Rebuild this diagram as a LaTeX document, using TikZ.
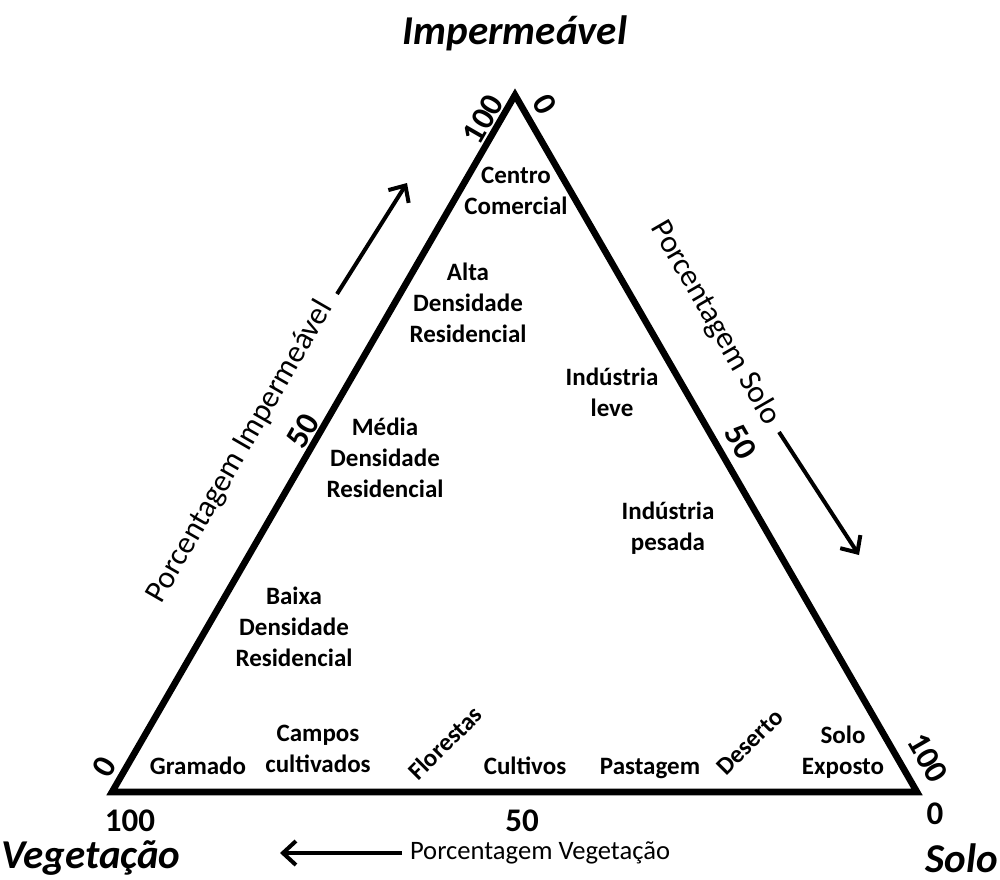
\documentclass[tikz,border=0pt]{standalone}
\usepackage{fontspec}
\setmainfont{Carlito}
\usetikzlibrary{arrows.meta}
\tikzset{
  region/.style={font=\bfseries\fontsize{12.5}{15.5}\selectfont, align=center, inner sep=0pt},
  tick/.style={font=\bfseries\fontsize{16.5}{19}\selectfont, inner sep=0pt},
  corner/.style={font=\bfseries\itshape\fontsize{20.5}{25}\selectfont, inner sep=0pt},
  axislabel/.style={font=\fontsize{13.3}{16}\selectfont, inner sep=0pt},
  sidelabel/.style={font=\fontsize{15.7}{18}\selectfont, inner sep=0pt},
  pointer/.style={line width=2pt, -{Straight Barb[length=6.5pt,width=12pt,line width=2pt]}}
}
\begin{document}
\begin{tikzpicture}[x=0.5pt,y=-0.5pt]
      \useasboundingbox (0,0) rectangle (1000,879);
      \coordinate (imp) at (515,95);
      \coordinate (veg) at (112,792);
      \coordinate (solo) at (917,792);
      \draw[line width=3.3pt, line join=miter] (imp) -- (veg) -- (solo) -- cycle;
      \draw
        (515,33) node[corner] (Imp){Impermeável}
        (91,858) node[corner] (Veg){Vegetação}
        (962,858) node[corner] (Sol){Solo}
        (130,821) node[tick] (v100){100}
        (522,821) node[tick] (v50){50}
        (935,814) node[tick] (v0){0}
        (483,119) node[tick, rotate=60] (i100){100}
        (303,431) node[tick, rotate=60] (i50){50}
        (104,767) node[tick, rotate=60] (i0){0}
        (545,104) node[tick, rotate=-60] (s0){0}
        (741,442) node[tick, rotate=-60] (s50){50}
        (928,758) node[tick, rotate=-60] (s100){100};
      \draw
        (516,191) node[region] (centro){Centro\\Comercial}
        (468,303) node[region] (alta){Alta\\Densidade\\Residencial}
        (612,392) node[region] (leve){Indústria\\leve}
        (385,458) node[region] (media){Média\\Densidade\\Residencial}
        (668,528) node[region] (pesada){Indústria\\pesada}
        (294,627) node[region] (baixa){Baixa\\Densidade\\Residencial}
        (198,774) node[region, anchor=base] (gramado){Gramado}
        (318,749) node[region] (campos){Campos\\cultivados}
        (445,743) node[region, rotate=45] (florestas){Florestas}
        (525,774) node[region, anchor=base] (cultivos){Cultivos}
        (650,774) node[region, anchor=base] (pastagem){Pastagem}
        (750,742) node[region, rotate=45] (deserto){Deserto}
        (843,752) node[region] (exposto){Solo\\Exposto};
      \coordinate (pi1) at (337,294);
      \coordinate (pi2) at (407,183);
      \coordinate (ps1) at (779,432);
      \coordinate (ps2) at (859,555);
      \coordinate (pv1) at (402,853);
      \coordinate (pv2) at (280,853);
      \draw
        (240,452) node[sidelabel, rotate=60] (pimp){Porcentagem Impermeável}
        (715,323) node[sidelabel, rotate=-60] (psolo){Porcentagem Solo}
        (540,853) node[axislabel] (pveg){Porcentagem Vegetação};
      \begin{scope}[pointer]
        \draw (pi1) to (pi2);
        \draw (ps1) to (ps2);
        \draw (pv1) to (pv2);
      \end{scope}
    \end{tikzpicture}
\end{document}
